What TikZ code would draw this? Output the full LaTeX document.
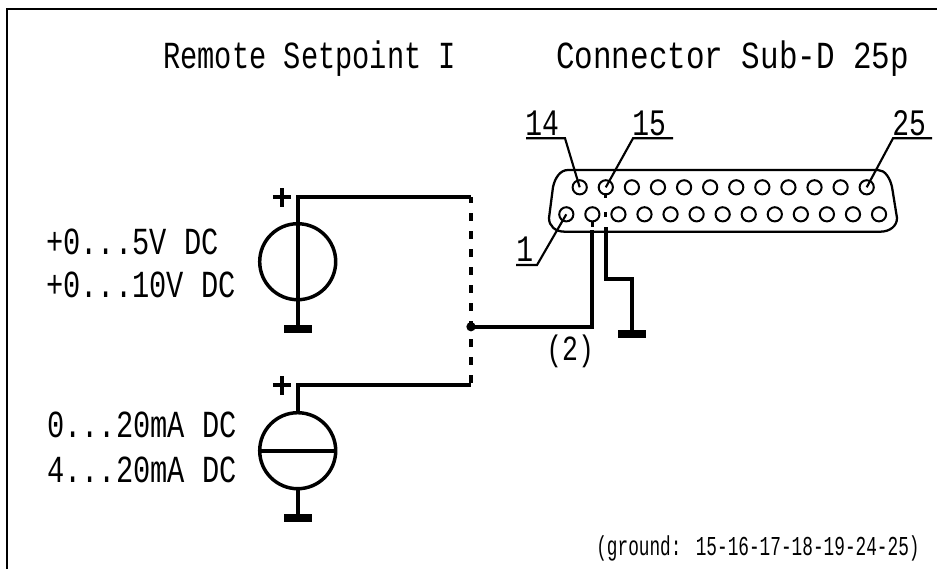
\documentclass[tikz,border=0pt]{standalone}
\usepackage{fontspec}
\newfontfamily\cadfont[FakeStretch=0.75]{Liberation Mono}
\newfontfamily\cadsmall[FakeStretch=0.65]{Liberation Mono}
\tikzset{
  frameline/.style={line width=2pt,black},
  wire/.style={line width=2.9pt,black,line cap=butt},
  thin wire/.style={line width=1.6pt,black},
  pin/.style={circle,draw,line width=1.5pt,minimum size=14.2*0.75pt,inner sep=0pt},
  source/.style={circle,draw,line width=2.6pt,minimum size=76*0.75pt,inner sep=0pt},
  gnd/.style={fill=black,draw=none,minimum width=28*0.75pt,minimum height=8*0.75pt,inner sep=0pt,rectangle},
  lab/.style={anchor=base west,inner sep=0pt,font=\cadfont\fontsize{28.7}{28.7}\selectfont},
  pinlab/.style={anchor=base west,inner sep=0pt,font=\cadfont\fontsize{28}{28}\selectfont},
  ref2/.style={anchor=base west,inner sep=0pt,font=\cadfont\fontsize{26.5}{26.5}\selectfont},
  note/.style={anchor=base west,inner sep=0pt,font=\cadsmall\fontsize{20.5}{20.5}\selectfont},
}
\begin{document}
\begin{tikzpicture}[x=0.75pt,y=-0.75pt]
\useasboundingbox (0,0) rectangle (937,569);
\fill[white] (0,0) rectangle (937,569);
% frame
\coordinate (fbl) at (7,569);
\coordinate (ftl) at (7,9);
\coordinate (ftr) at (937,9);
\draw[frameline] (fbl) -- (ftl) -- (ftr);
% titles
\node[lab] (t1) at (163,68) {Remote Setpoint I};
\node[lab] (t2) at (556,68) {\scalebox{1.078}[1]{Connector Sub-D 25p}};
\node[lab] (v1) at (46,254) {+0...5V DC};
\node[lab] (v2) at (46,297) {+0...10V DC};
\node[lab] (c1) at (47,437) {0...20mA DC};
\node[lab] (c2) at (47,482) {4...20mA DC};
\node[ref2] (l2) at (546,360) {(2)};
\node[note] (gn) at (596,555) {(ground: 15-16-17-18-19-24-25)};
% connector shell
\draw[line width=1.7pt] (568,170) -- (878,170)
  .. controls (885,170) and (890,178) .. (892,187)
  -- (897,218) .. controls (897,226) and (890,231.7) .. (880,231.7)
  -- (565,231.7) .. controls (555,231.7) and (549,226) .. (549,218)
  -- (553,187) .. controls (555,178) and (560,170) .. (568,170) -- cycle;
% pins
\foreach \i in {1,...,13} \node[pin] (p\i) at ({566.3+(\i-1)*26.06},214.3) {};
\foreach \i in {14,...,25} \node[pin] (p\i) at ({579.7+(\i-14)*26.09},187.3) {};
% pin labels
\node[pinlab] (n14) at (525,135) {14};
\node[pinlab] (n15) at (632,135) {15};
\node[pinlab] (n25) at (892,135) {25};
\node[pinlab] (n1) at (516,261) {1};
\coordinate (u14a) at (526,138.3); \coordinate (u14b) at (565,138.3);
\coordinate (u15a) at (633,138.3); \coordinate (u15b) at (673,138.3);
\coordinate (u25a) at (893,138.3); \coordinate (u25b) at (932,138.3);
\coordinate (u1a) at (516,265); \coordinate (u1b) at (537,265);
\draw[thin wire] (u14a) -- (u14b) -- (p14.center);
\draw[thin wire] (u15b) -- (u15a) -- (p15.center);
\draw[thin wire] (u25b) -- (u25a) -- (p25.center);
\draw[thin wire] (u1a) -- (u1b) -- (p1.center);
% sources
\node[source] (s1) at (297.7,261.7) {};
\node[source] (s2) at (297.7,450.7) {};
\node[gnd] (g1) at (297.7,329) {};
\node[gnd] (g2) at (297.7,517.7) {};
\node[gnd] (g3) at (632,334) {};
\draw[wire] (s1.north) -- (s1.south);
\draw[wire] (s2.west) -- (s2.east);
\draw[wire] (s1.south) -- (g1.center);
\draw[wire] (s2.south) -- (g2.center);
\coordinate (top1) at (297.7,197.3);
\coordinate (top2) at (297.7,385.3);
\coordinate (jt) at (471,197.3);
\coordinate (jb) at (471,385.3);
\draw[wire,line join=miter] (s1.north) -- (top1) -- (jt);
\draw[wire,line join=miter] (s2.north) -- (top2) -- (jb);
\draw[line width=2.6pt,dash pattern=on 6pt off 7.5pt,dash phase=1.5pt] (jt) -- (jb);
% plus signs
\foreach \n/\y in {pa/197.3,pb/385.3}{
  \coordinate (\n) at (282,\y);
  \draw[wire] ([xshift=-6.9pt]\n) -- ([xshift=6.9pt]\n);
  \draw[wire] ([yshift=-6.9pt]\n) -- ([yshift=6.9pt]\n);
}
% junction and pin 2 wire
\node[circle,fill=black,inner sep=0pt,minimum size=7pt] (dot) at (471,326.7) {};
\coordinate (k2) at (592.3,326.7);
\coordinate (e2) at (592.3,230);
\draw[wire,line join=miter] (dot.center) -- (k2) -- (e2);
\draw[line width=2pt] (592.3,222) -- (592.3,226.5);
% ground wire from pin 15
\coordinate (e15) at (605.7,227);
\coordinate (b15) at (605.7,279);
\coordinate (c15) at (632,279);
\draw[wire,line join=miter] (e15) -- (b15) -- (c15) -- (g3.center);
\draw[line width=2pt] (605.7,193) -- (605.7,198);
\draw[line width=2pt] (605.7,212) -- (605.7,216.5);
\end{tikzpicture}
\end{document}
